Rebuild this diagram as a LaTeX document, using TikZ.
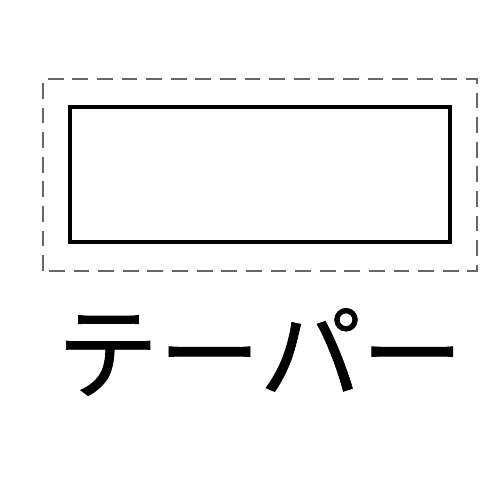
\documentclass[tikz,border=0pt]{standalone}
\usepackage{fontspec}
\newfontfamily\cjk[FakeBold=0.7]{Noto Sans CJK JP}
\begin{document}
\begin{tikzpicture}
        \useasboundingbox (0, 0) rectangle (10, 10);
        \draw[dash pattern=on 9pt off 5pt, gray!80!black, line width=0.6pt] (0.86, 4.58) rectangle (9.54, 8.42);
        \node[draw, line width=2pt, minimum width=7.6cm, minimum height=2.7cm, inner sep=0] (box) at (5.2, 6.51) {};
        \node[font=\cjk\fontsize{58}{60}\selectfont, inner sep=0] (label) at (5.2, 2.96) {テーパー};
    \end{tikzpicture}
\end{document}
